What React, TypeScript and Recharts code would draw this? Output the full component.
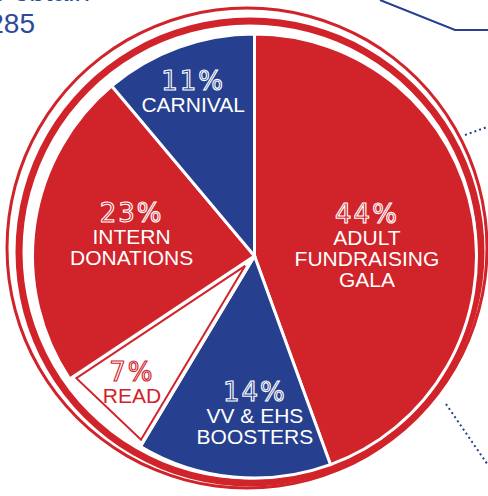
import { PieChart, Pie, Cell } from 'recharts';

const RED = '#d1232a';
const BLUE = '#263f8e';
const RAD = Math.PI / 180;

// funding sources, clockwise from 12 o'clock
const sources = ['ADULT FUNDRAISING GALA', 'VV & EHS BOOSTERS', 'READ', 'INTERN DONATIONS', 'CARNIVAL'];
const nameLines = [['ADULT', 'FUNDRAISING', 'GALA'], ['VV & EHS', 'BOOSTERS'], ['READ'], ['INTERN', 'DONATIONS'], ['CARNIVAL']];
const shares = [44, 14, 7, 23, 11];
const sliceColors = [RED, BLUE, '#ffffff', RED, BLUE];

// where each label block sits (radius from centre, angle nudge in degrees)
const LABEL_R = [113, 157, 176, 125, 176];
const LABEL_SHIFT = [-4.4, 5.6, -0.5, -2.4, 0.4];

const data = sources.map((s, i) => ({ name: s, value: shares[i] }));
const ring = [{ name: 'ring', value: 1 }];

const renderLabel = (p: any) => {
  const { cx, cy, midAngle, index } = p;
  const a = (midAngle + LABEL_SHIFT[index]) * RAD;
  const x = cx + LABEL_R[index] * Math.cos(a);
  const yc = cy - LABEL_R[index] * Math.sin(a);
  const lines = nameLines[index];
  const yp = yc - 1 - 10.5 * (lines.length - 1);
  const isRead = sliceColors[index] === '#ffffff';
  const ink = isRead ? RED : '#ffffff';

  let outline = null;
  if (isRead) {
    // inset triangle outline for the white slice
    const half = p.endAngle != null && p.startAngle != null ? Math.abs(p.endAngle - p.startAngle) / 2 : p.percent * 180;
    const apex = 3 / Math.sin(half * RAD);
    const R = 216;
    const d = Math.asin(3 / R) / RAD;
    const pt = (r: number, ang: number) => `${cx + r * Math.cos(ang * RAD)},${cy - r * Math.sin(ang * RAD)}`;
    outline = (
      <polygon
        points={[pt(apex, midAngle), pt(R, midAngle + half - d), pt(R, midAngle - half + d)].join(' ')}
        fill="none"
        stroke={RED}
        strokeWidth={2}
        strokeLinejoin="miter"
      />
    );
  }

  return (
    <g key={`lbl-${index}`}>
      {outline}
      <text
        x={x}
        y={yp}
        textAnchor="middle"
        fontFamily="'DejaVu Sans', sans-serif"
        fontSize={26}
        letterSpacing={2}
        fill={sliceColors[index]}
        stroke={ink}
        strokeWidth={1.1}
      >
        {shares[index]}%
      </text>
      {lines.map((ln, i) => (
        <text
          key={i}
          x={x}
          y={yp + 22 + 21 * i}
          textAnchor="middle"
          fontFamily="'Liberation Sans', Arial, sans-serif"
          fontSize={21}
          fill={ink}
        >
          {ln}
        </text>
      ))}
    </g>
  );
};

export default function App() {
  return (
    <div style={{ position: 'absolute', left: 0, top: 0, width: 488, height: 496, overflow: 'hidden', background: '#fff' }}>
      <PieChart width={488} height={496} margin={{ top: 0, right: 0, bottom: 0, left: 0 }}>
        <Pie data={ring} dataKey="value" cx={247} cy={248} innerRadius={238.5} outerRadius={241.5} fill={RED} stroke="none" isAnimationActive={false} />
        <Pie data={ring} dataKey="value" cx={250} cy={252} innerRadius={227.5} outerRadius={234.5} fill={RED} stroke="none" isAnimationActive={false} />
        <Pie
          data={data}
          dataKey="value"
          cx={254.5}
          cy={256}
          outerRadius={222}
          startAngle={90}
          endAngle={-270}
          stroke="#ffffff"
          strokeWidth={3}
          labelLine={false}
          label={renderLabel}
          isAnimationActive={false}
        >
          {data.map((d, i) => (
            <Cell key={d.name} fill={sliceColors[i]} />
          ))}
        </Pie>
      </PieChart>
      <svg width={488} height={496} style={{ position: 'absolute', left: 0, top: 0, pointerEvents: 'none' }}>
        <text x={90} y={1} textAnchor="end" fontFamily="'Liberation Sans', Arial, sans-serif" fontSize={28} fill="#2d4a9c">to obtain</text>
        <text x={35} y={33} textAnchor="end" fontFamily="'Liberation Sans', Arial, sans-serif" fontSize={28} fill="#2d4a9c">285</text>
        <polyline points="380,0 455,30 490,30" fill="none" stroke={BLUE} strokeWidth={2} />
        <line x1={465} y1={135} x2={490} y2={126} stroke={BLUE} strokeWidth={2} strokeDasharray="2 3" />
        <line x1={446} y1={404} x2={490} y2={468} stroke={BLUE} strokeWidth={2} strokeDasharray="2 3" />
      </svg>
    </div>
  );
}
